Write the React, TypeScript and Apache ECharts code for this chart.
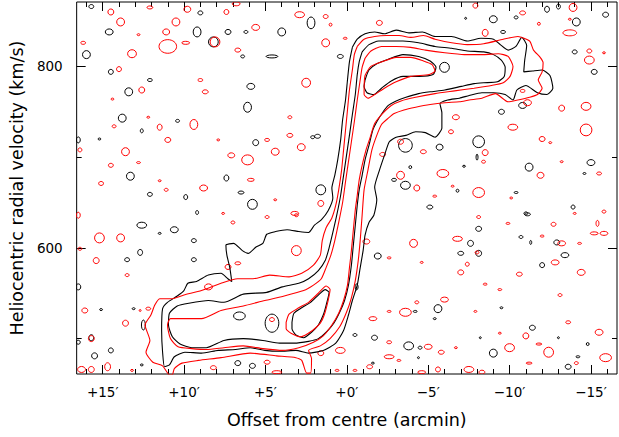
import React, { useEffect, useRef } from "react";
import * as echarts from "echarts";

// Axis ticks (arcmin offset, km/s velocity)
const xMajor = [-15, -10, -5, 0, 5, 10, 15];
const xMinor = [-16, -14, -13, -12, -11, -9, -8, -7, -6, -4, -3, -2, -1, 1, 2, 3, 4, 6, 7, 8, 9, 11, 12, 13, 14, 16];
const yMajor = [600, 800];
const yMinor = [500, 700];

// Main contours: [offset arcmin, velocity km/s]
const contourB1: [number, number][] = [
  [-0.34, 821], [-0.64, 830], [-1.12, 836], [-1.71, 838], [-2.31, 836], [-3.03, 840], [-3.81, 837], [-4.65, 838],
  [-5.42, 833], [-6.44, 833], [-7.4, 828], [-8.24, 831], [-9.01, 830], [-9.43, 824], [-9.91, 818], [-10.39, 822],
  [-10.75, 832], [-11.05, 823], [-10.93, 807], [-10.87, 794], [-11.41, 795], [-12.0, 796], [-12.48, 790], [-12.66, 776],
  [-12.3, 769], [-11.71, 771], [-11.0, 779], [-10.45, 774], [-10.21, 763], [-9.73, 769], [-9.01, 771], [-8.3, 771],
  [-7.52, 768], [-6.92, 765], [-6.2, 763], [-5.72, 759], [-5.84, 749], [-5.84, 732], [-5.42, 722], [-4.83, 727],
  [-4.23, 728], [-3.63, 724], [-3.03, 722], [-2.61, 717], [-2.31, 702], [-2.01, 686], [-1.71, 667], [-1.84, 653],
  [-1.66, 636], [-1.36, 628], [-1.12, 614], [-1.0, 597], [-0.82, 578], [-0.64, 559], [-0.34, 542], [-0.1, 526],
  [0.2, 509], [0.68, 495], [1.45, 487], [2.35, 484], [3.13, 487], [4.14, 486], [5.04, 487], [5.94, 490],
  [6.84, 488], [7.91, 487], [8.93, 484], [9.95, 485], [10.6, 480], [10.9, 471], [11.2, 469], [11.32, 485],
  [11.38, 509], [11.32, 533], [11.02, 540], [10.42, 547], [10.01, 553], [9.77, 561], [9.23, 563], [8.51, 570],
  [7.73, 572], [7.31, 566], [7.07, 563], [7.19, 578], [7.37, 592], [7.43, 603], [6.96, 605], [6.42, 597],
  [6.06, 594], [5.58, 601], [5.16, 605], [4.92, 615], [4.38, 618], [3.67, 620], [2.95, 618], [2.35, 617],
  [1.99, 625], [1.57, 631], [1.15, 641], [0.86, 655], [0.92, 666], [0.74, 680], [0.56, 697], [0.38, 719],
  [0.26, 741], [0.08, 763], [-0.04, 785], [-0.16, 805], [-0.34, 821]
];

const contourR1: [number, number][] = [
  [-0.64, 822], [-1.06, 830], [-1.71, 833], [-2.43, 834], [-3.21, 834], [-3.93, 832], [-4.71, 834], [-5.42, 830],
  [-6.44, 826], [-7.4, 824], [-8.41, 825], [-9.61, 830], [-10.51, 833], [-11.23, 828], [-11.47, 818], [-11.88, 810],
  [-12.06, 804], [-12.0, 794], [-11.76, 785], [-12.0, 776], [-11.71, 769], [-11.23, 766], [-10.51, 763], [-9.91, 761],
  [-9.13, 770], [-8.3, 765], [-7.52, 763], [-6.92, 761], [-6.02, 760], [-5.12, 758], [-4.23, 755], [-3.51, 752],
  [-2.91, 748], [-2.55, 743], [-2.13, 736], [-1.84, 724], [-1.54, 708], [-1.3, 686], [-1.06, 664], [-0.94, 636],
  [-0.82, 608], [-0.7, 586], [-0.52, 564], [-0.28, 545], [0.02, 529], [0.44, 513], [1.03, 500], [1.63, 492],
  [2.35, 487], [2.17, 478], [2.23, 462], [2.47, 462], [2.77, 476], [3.13, 479], [4.32, 481], [5.94, 484],
  [7.73, 479], [9.11, 476], [10.13, 473], [10.6, 467], [10.72, 460], [10.9, 460], [11.32, 470], [11.92, 474],
  [12.34, 485], [12.1, 498], [12.4, 515], [12.04, 526], [11.8, 537], [11.5, 544], [10.72, 544], [10.01, 548],
  [8.93, 553], [7.73, 561], [6.72, 566], [5.76, 566], [4.74, 570], [3.55, 568], [2.77, 572], [2.05, 581],
  [1.63, 592], [1.51, 608], [1.28, 622], [0.92, 633], [0.68, 647], [0.5, 664], [0.32, 686], [0.2, 708],
  [0.08, 730], [-0.04, 752], [-0.16, 774], [-0.34, 796], [-0.46, 813], [-0.64, 822]
];

const contourB2: [number, number][] = [
  [-0.94, 816], [-1.36, 824], [-1.96, 828], [-2.73, 828], [-3.45, 828], [-4.41, 826], [-5.42, 822], [-6.44, 820],
  [-7.4, 817], [-8.41, 816], [-9.01, 813], [-9.49, 807], [-9.73, 799], [-9.67, 789], [-9.25, 783], [-8.41, 782],
  [-7.82, 781], [-7.04, 778], [-6.02, 774], [-5.12, 772], [-4.41, 770], [-3.63, 766], [-3.03, 762], [-2.55, 757],
  [-2.19, 749], [-1.84, 739], [-1.6, 730], [-1.36, 713], [-1.12, 697], [-0.94, 680], [-0.76, 664], [-0.64, 647],
  [-0.52, 625], [-0.4, 603], [-0.28, 581], [-0.1, 559], [0.14, 542], [0.44, 529], [0.8, 517], [1.27, 507],
  [1.75, 500], [2.35, 497], [3.25, 495], [4.14, 495], [5.16, 498], [6.36, 500], [7.55, 498], [8.63, 490],
  [9.53, 490], [10.25, 494], [10.72, 502], [10.96, 515], [10.9, 528], [10.42, 536], [9.71, 539], [8.51, 542],
  [7.55, 540], [6.36, 549], [4.92, 551], [3.97, 557], [2.95, 561], [2.35, 566], [1.75, 575], [1.33, 586],
  [1.09, 600], [0.86, 617], [0.62, 636], [0.38, 658], [0.2, 680], [0.02, 702], [-0.16, 724], [-0.34, 747],
  [-0.52, 769], [-0.64, 791], [-0.76, 805], [-0.94, 816]
];

const contourR2: [number, number][] = [
  [-1.12, 809], [-1.48, 817], [-2.13, 822], [-3.03, 822], [-3.93, 821], [-4.83, 818], [-6.02, 815], [-7.22, 813],
  [-8.41, 813], [-9.31, 814], [-9.91, 811], [-10.21, 800], [-10.03, 789], [-9.61, 782], [-8.89, 779], [-7.82, 776],
  [-6.62, 773], [-5.42, 770], [-4.23, 766], [-3.33, 762], [-2.73, 757], [-2.19, 748], [-1.71, 737], [-1.42, 721],
  [-1.18, 708], [-0.94, 691], [-0.76, 675], [-0.64, 658], [-0.52, 642], [-0.4, 620], [-0.28, 597], [-0.16, 578],
  [-0.04, 559], [0.2, 542], [0.5, 528], [0.92, 515], [1.45, 503], [2.05, 496], [2.95, 490], [3.97, 487],
  [5.16, 489], [6.36, 492], [7.55, 490], [8.63, 488], [9.53, 489], [10.37, 491], [10.84, 500], [11.02, 515],
  [10.84, 522], [10.13, 522], [8.93, 522], [7.73, 531], [6.36, 536], [5.04, 542], [3.85, 547], [2.65, 553],
  [2.05, 559], [1.57, 566], [1.28, 578], [0.98, 592], [0.74, 608], [0.5, 628], [0.26, 650], [0.08, 673],
  [-0.1, 695], [-0.28, 717], [-0.46, 739], [-0.64, 763], [-0.82, 785], [-0.94, 799], [-1.12, 809]
];

const contourB3Upper: [number, number][] = [
  [-1.12, 785], [-1.36, 796], [-1.84, 803], [-2.55, 808], [-3.45, 813], [-4.41, 811], [-5.12, 806], [-5.48, 799],
  [-5.3, 791], [-4.41, 789], [-3.45, 789], [-2.73, 784], [-2.13, 776], [-1.66, 769], [-1.24, 771], [-1.06, 778],
  [-1.12, 785]
];

const contourR3Upper: [number, number][] = [
  [-1.06, 776], [-1.12, 790], [-1.48, 800], [-2.13, 805], [-3.03, 810], [-3.93, 810], [-4.71, 806], [-5.24, 802],
  [-5.42, 795], [-5.06, 791], [-3.93, 789], [-3.03, 783], [-2.31, 776], [-1.71, 769], [-1.3, 765], [-1.06, 769],
  [-1.06, 776]
];

const contourB3Lower: [number, number][] = [
  [3.37, 518], [3.25, 528], [2.77, 534], [2.23, 540], [1.75, 548], [1.33, 554], [1.09, 551], [1.27, 537],
  [1.45, 526], [1.75, 515], [2.17, 507], [2.65, 501], [3.13, 504], [3.37, 511], [3.37, 518]
];

const contourR3Lower: [number, number][] = [
  [3.73, 518], [3.55, 527], [2.95, 534], [2.35, 540], [1.75, 550], [1.27, 558], [1.03, 554], [1.15, 542],
  [1.39, 526], [1.63, 517], [2.11, 509], [2.83, 502], [3.43, 506], [3.73, 511], [3.73, 518]
];

// Small noise contours: [offset, velocity, width arcmin, height km/s]
const blackBlobs: number[][] = [
  [15.7, 866, 0.3, 4.4], [14.6, 838, 0.48, 6.6], [9.2, 838, 0.48, 11], [9.0, 859, 0.3, 4.4], [8.2, 827, 0.6, 11],
  [7.3, 838, 0.36, 5.5], [6.2, 838, 0.24, 3.3], [4.0, 838, 0.48, 8.8], [2.2, 848, 0.48, 13], [6.4, 811, 0.24, 3.3],
  [4.6, 811, 0.72, 3.3], [14.5, 794, 0.3, 5.5], [13.4, 772, 0.48, 8.8], [12.1, 785, 0.3, 3.3], [13.8, 743, 0.48, 8.8],
  [10.4, 740, 0.24, 3.3], [12.6, 729, 0.18, 4.4], [5.9, 778, 0.48, 6.6], [6.1, 755, 0.48, 11], [5.6, 716, 0.36, 6.6],
  [13.3, 679, 0.48, 8.8], [7.4, 677, 0.3, 6.6], [5.8, 648, 0.6, 11], [15.2, 720, 0.18, 2.2], [16.0, 813, 0.48, 8.8],
  [16.5, 719, 0.24, 6.6], [12.1, 659, 0.3, 4.4], [9.9, 656, 0.24, 5.5], [6.5, 661, 0.36, 3.3], [9.2, 639, 0.18, 4.4],
  [2.1, 722, 0.24, 3.3], [0.4, 811, 0.36, 4.4], [1.8, 723, 0.36, 4.4], [-7.3, 853, 0.12, 2.2], [-9.0, 852, 0.48, 7.7],
  [-9.6, 838, 0.3, 3.3], [-10.4, 854, 0.24, 3.3], [-12.3, 863, 0.3, 6.6], [-13.0, 866, 0.24, 5.5], [-14.1, 849, 0.48, 8.8],
  [-15.9, 857, 0.36, 5.5], [-14.0, 816, 0.3, 4.4], [-15.2, 794, 0.36, 5.5], [-6.0, 799, 0.6, 11], [-9.5, 750, 0.36, 5.5],
  [-10.8, 757, 0.48, 6.6], [-5.7, 711, 0.42, 6.6], [-8.1, 717, 0.72, 13], [-8.0, 700, 0.12, 6.6], [-11.2, 689, 0.48, 8.8],
  [-15.0, 694, 0.48, 6.6], [-14.6, 682, 0.18, 2.2], [-7.2, 690, 0.18, 2.2], [-5.1, 645, 0.36, 4.4], [-10.4, 661, 0.24, 2.2],
  [-11.0, 638, 0.24, 3.3], [-13.9, 645, 0.24, 4.4], [-6.8, 663, 0.18, 3.3], [-2.9, 675, 0.3, 3.3], [-3.6, 669, 0.6, 8.8],
  [1.6, 664, 0.6, 11], [-3.9, 689, 0.18, 3.3], [-3.6, 713, 0.84, 15], [12.6, 625, 0.6, 6.6], [11.5, 616, 0.18, 2.2],
  [10.6, 620, 0.48, 6.6], [9.4, 608, 0.3, 4.4], [9.4, 587, 0.3, 4.4], [13.5, 587, 0.3, 4.4], [12.7, 595, 0.3, 6.6],
  [16.5, 557, 0.3, 6.6], [15.1, 532, 0.18, 2.2], [13.1, 533, 0.18, 2.2], [12.5, 515, 0.24, 11], [15.7, 501, 0.3, 6.6],
  [16.5, 496, 0.24, 4.4], [15.5, 481, 0.36, 6.6], [14.5, 487, 0.3, 5.5], [12.6, 471, 0.18, 2.2], [6.6, 525, 0.72, 8.8],
  [4.6, 517, 0.84, 20], [5.8, 470, 0.36, 5.5], [6.7, 473, 0.36, 5.5], [-11.1, 637, 0.36, 3.3], [-8.1, 621, 0.36, 5.5],
  [-10.7, 612, 0.24, 3.3], [-11.3, 606, 0.12, 4.4], [-12.9, 606, 0.36, 5.5], [-13.4, 592, 0.48, 5.5], [-12.0, 581, 0.3, 5.5],
  [-7.6, 605, 0.36, 6.6], [-7.0, 594, 0.36, 4.4], [-8.1, 594, 0.36, 6.6], [-1.9, 591, 0.42, 6.6], [-5.6, 533, 0.48, 8.8],
  [-4.2, 530, 0.24, 2.2], [-5.4, 522, 0.18, 2.2], [-9.5, 534, 0.18, 2.2], [-11.4, 512, 0.36, 5.5], [-8.2, 501, 0.12, 2.2],
  [-14.8, 494, 0.18, 3.3], [-13.0, 501, 0.12, 2.2], [-3.8, 492, 0.6, 8.8], [-4.5, 490, 0.24, 3.3], [-9.0, 484, 0.48, 8.8],
  [-1.6, 473, 0.18, 2.2], [-13.6, 469, 0.36, 5.5], [-14.2, 480, 0.24, 2.2], [-1.7, 501, 0.36, 5.5], [-0.5, 504, 0.24, 3.3],
  [-0.6, 557, 0.18, 6.6], [-4.4, 479, 0.12, 2.2]
];

const redBlobs: number[][] = [
  [14.5, 860, 0.36, 6.6], [13.9, 849, 0.48, 8.8], [12.1, 865, 0.36, 3.3], [9.8, 863, 0.42, 6.6], [7.4, 860, 0.3, 5.5],
  [6.8, 869, 0.48, 4.4], [2.9, 857, 0.6, 6.6], [10.5, 849, 0.48, 8.8], [11.1, 838, 0.42, 6.6], [12.8, 835, 0.18, 2.2],
  [16.2, 826, 0.3, 3.3], [11.0, 822, 1.08, 15], [9.9, 826, 0.48, 3.3], [8.1, 827, 0.6, 11], [5.6, 843, 0.48, 6.6],
  [6.7, 818, 0.36, 4.4], [13.2, 814, 0.54, 8.8], [14.0, 797, 0.3, 5.5], [9.0, 785, 0.3, 3.3], [12.6, 774, 0.36, 6.6],
  [8.7, 772, 0.36, 4.4], [2.5, 782, 0.54, 9.9], [14.4, 764, 0.18, 2.2], [12.2, 744, 0.18, 2.2], [11.5, 733, 0.3, 6.6],
  [9.4, 736, 0.48, 11], [7.9, 719, 0.18, 2.2], [11.0, 719, 0.36, 5.5], [13.6, 706, 0.48, 8.8], [12.8, 694, 0.24, 2.2],
  [7.1, 702, 0.42, 5.5], [6.1, 697, 0.72, 11], [4.4, 706, 0.48, 7.7], [2.8, 711, 0.48, 7.7], [4.9, 719, 0.3, 3.3],
  [3.5, 724, 0.36, 4.4], [14.5, 691, 0.3, 4.4], [15.1, 671, 0.3, 4.4], [11.5, 674, 0.18, 2.2], [11.1, 664, 0.24, 3.3],
  [8.8, 666, 0.48, 6.6], [5.9, 675, 0.42, 3.3], [3.2, 638, 0.48, 4.4], [7.6, 638, 0.18, 2.2], [4.4, 653, 0.18, 2.2],
  [16.5, 636, 0.24, 6.6], [16.4, 708, 0.24, 4.4], [3.5, 744, 0.24, 3.3], [14.3, 734, 0.24, 3.3], [4.9, 634, 0.24, 3.3],
  [1.3, 855, 0.3, 4.4], [1.0, 846, 0.18, 3.3], [-2.0, 848, 0.36, 5.5], [1.3, 826, 0.48, 8.8], [0.1, 831, 0.24, 2.2],
  [-7.9, 867, 0.3, 5.5], [-8.5, 837, 0.36, 7.7], [-10.8, 859, 0.36, 4.4], [-11.8, 847, 0.18, 3.3], [-13.7, 837, 0.84, 6.6],
  [-13.9, 865, 0.48, 8.8], [-13.7, 852, 0.18, 2.2], [-14.9, 817, 0.3, 4.4], [-14.9, 807, 0.6, 8.8], [-15.8, 815, 0.18, 2.2],
  [-14.7, 756, 0.6, 8.8], [-14.7, 730, 0.72, 13], [-13.2, 754, 0.36, 6.6], [-10.2, 733, 0.6, 6.6], [-11.1, 760, 0.48, 6.6],
  [-10.8, 773, 0.3, 3.3], [-6.7, 744, 0.42, 5.5], [-6.4, 728, 0.3, 4.4], [-4.7, 706, 0.36, 4.4], [-2.2, 703, 0.36, 4.4],
  [-3.3, 717, 0.36, 5.5], [-8.5, 705, 0.36, 6.6], [-8.4, 695, 0.24, 3.3], [-12.0, 720, 0.36, 5.5], [-12.5, 716, 0.18, 2.2],
  [-11.9, 680, 0.42, 6.6], [-15.5, 682, 0.3, 3.3], [-13.2, 695, 0.18, 2.2], [-5.9, 682, 0.72, 8.8], [-3.3, 680, 0.48, 8.8],
  [-4.3, 666, 0.36, 6.6], [-8.1, 661, 0.72, 11], [-5.4, 657, 0.24, 2.2], [-6.5, 668, 0.18, 2.2], [-8.1, 634, 0.24, 3.3],
  [-10.1, 655, 0.18, 2.2], [-14.0, 638, 0.18, 2.2], [-15.8, 640, 0.24, 3.3], [1.6, 649, 0.36, 6.6], [15.2, 611, 0.6, 11],
  [13.9, 611, 0.48, 8.8], [15.4, 586, 0.36, 6.6], [16.4, 599, 0.24, 3.3], [13.5, 570, 0.24, 3.3], [16.1, 531, 0.36, 5.5],
  [13.6, 517, 0.36, 6.6], [12.2, 533, 0.3, 3.3], [12.7, 531, 0.12, 2.2], [15.7, 500, 0.36, 6.6], [16.3, 466, 0.48, 6.6],
  [15.7, 466, 0.36, 6.6], [14.7, 469, 0.36, 8.8], [13.2, 465, 0.18, 2.2], [8.5, 557, 0.48, 6.6], [7.3, 579, 0.36, 5.5],
  [6.7, 583, 0.36, 3.3], [3.1, 597, 0.6, 11], [3.1, 636, 0.24, 3.3], [7.0, 628, 0.24, 3.3], [4.9, 474, 0.36, 4.4],
  [4.3, 463, 0.6, 3.3], [8.2, 468, 0.36, 4.4], [4.6, 521, 0.3, 4.4], [-12.7, 626, 0.3, 4.4], [-15.4, 627, 0.18, 6.6],
  [-15.2, 616, 0.48, 3.3], [-15.8, 616, 0.48, 4.4], [-9.9, 627, 0.24, 2.2], [-1.2, 607, 0.42, 5.5], [-4.1, 605, 0.48, 8.8],
  [-6.8, 610, 0.6, 5.5], [-8.0, 595, 0.24, 3.3], [-13.2, 605, 0.48, 5.5], [-14.3, 605, 0.24, 2.2], [-12.0, 613, 0.24, 2.2],
  [-2.6, 589, 0.24, 2.2], [-4.6, 584, 0.18, 2.2], [-7.0, 573, 0.36, 5.5], [-7.4, 582, 0.24, 4.4], [-10.6, 571, 0.36, 4.4],
  [-12.8, 584, 0.48, 5.5], [-14.4, 573, 0.48, 6.6], [-8.5, 560, 0.24, 2.2], [-9.4, 554, 0.24, 2.2], [-13.1, 548, 0.24, 3.3],
  [-6.0, 543, 0.48, 5.5], [-4.3, 540, 0.24, 3.3], [-3.6, 529, 0.72, 8.8], [-2.6, 530, 0.24, 2.2], [-1.6, 522, 0.48, 4.4],
  [-7.9, 530, 0.18, 2.2], [-13.6, 518, 0.3, 3.3], [-11.0, 503, 0.36, 6.6], [-10.0, 490, 0.6, 8.8], [-12.4, 485, 0.6, 11],
  [-15.5, 507, 0.48, 6.6], [-15.9, 479, 0.72, 8.8], [-5.0, 491, 0.48, 5.5], [-5.8, 485, 0.36, 4.4], [-2.6, 496, 0.3, 3.3],
  [-2.6, 480, 0.6, 4.4], [-3.2, 476, 0.24, 2.2], [0.4, 487, 0.6, 6.6], [1.6, 484, 0.36, 5.5], [-5.6, 466, 0.3, 5.5],
  [-7.5, 466, 0.6, 6.6], [-8.3, 463, 0.36, 4.4], [-6.7, 490, 0.18, 2.2], [-9.4, 506, 0.18, 2.2], [-11.2, 473, 0.36, 2.2],
  [-14.1, 473, 0.24, 3.3], [-11.8, 494, 0.36, 2.2], [-4.6, 463, 0.48, 3.3], [-1.4, 469, 0.36, 4.4], [-0.5, 465, 0.24, 2.2],
  [0.6, 465, 0.24, 2.2]
];

const FONT = "DejaVu Sans";
const BLACK = "#000000";
const RED = "#ff0000";

function fmtX(v: number): string {
  const s = v > 0 ? "+" + v : v < 0 ? "\u2212" + -v : "+0";
  return s + "\u2032";
}

function blobSeries(data: number[][], color: string) {
  return {
    type: "custom",
    silent: true,
    clip: true,
    data,
    renderItem: (params: any, api: any) => {
      const c = api.coord([api.value(0), api.value(1)]);
      const s = api.size([api.value(2), api.value(3)]);
      return {
        type: "ellipse",
        shape: { cx: c[0], cy: c[1], rx: Math.max(s[0] / 2, 0.8), ry: Math.max(s[1] / 2, 0.8) },
        style: { fill: "none", stroke: color, lineWidth: 1 },
      };
    },
  };
}

function lineSeries(data: [number, number][], color: string) {
  return {
    type: "line",
    data,
    silent: true,
    symbol: "none",
    showSymbol: false,
    smooth: 0.2,
    clip: true,
    lineStyle: { color, width: 1.1 },
  };
}

export default function App() {
  const ref = useRef<HTMLDivElement>(null);
  useEffect(() => {
    if (!ref.current) return;
    const chart = echarts.init(ref.current, undefined, { renderer: "svg" });
    const xBase = { type: "value", min: -16.6, max: 16.6, inverse: true, splitLine: { show: false }, axisLine: { show: false, onZero: false } };
    const yBase = { type: "value", min: 461, max: 871, splitLine: { show: false }, axisLine: { show: false, onZero: false } };
    const tick = (vals: number[], len: number) => ({ show: true, inside: true, length: len, customValues: vals, lineStyle: { color: BLACK, width: 1 } });
    chart.setOption({
      animation: false,
      backgroundColor: "#ffffff",
      grid: { left: 62, right: 2, top: 2, bottom: 63, show: true, borderColor: BLACK, borderWidth: 1, backgroundColor: "transparent" },
      xAxis: [
        {
          ...xBase,
          position: "bottom",
          axisTick: tick(xMajor, 9),
          axisLabel: { customValues: xMajor, formatter: fmtX, margin: 11, color: BLACK, fontSize: 13.5, fontFamily: FONT },
          name: "Offset from centre (arcmin)",
          nameLocation: "middle",
          nameGap: 37,
          nameTextStyle: { color: BLACK, fontSize: 17.5, fontFamily: FONT },
        },
        { ...xBase, position: "bottom", axisTick: tick(xMinor, 5), axisLabel: { show: false } },
        { ...xBase, position: "top", axisTick: tick(xMajor, 9), axisLabel: { show: false } },
        { ...xBase, position: "top", axisTick: tick(xMinor, 5), axisLabel: { show: false } },
      ],
      yAxis: [
        {
          ...yBase,
          position: "left",
          axisTick: tick(yMajor, 9),
          axisLabel: { customValues: yMajor, margin: 14, color: BLACK, fontSize: 13.5, fontFamily: FONT },
          name: "Heliocentric radial velocity (km/s)",
          nameLocation: "middle",
          nameGap: 36,
          nameTextStyle: { color: BLACK, fontSize: 17.5, fontFamily: FONT },
        },
        { ...yBase, position: "left", axisTick: tick(yMinor, 5), axisLabel: { show: false } },
        { ...yBase, position: "right", axisTick: tick(yMajor, 9), axisLabel: { show: false } },
        { ...yBase, position: "right", axisTick: tick(yMinor, 5), axisLabel: { show: false } },
      ],
      series: [
        blobSeries(blackBlobs, BLACK),
        blobSeries(redBlobs, RED),
        lineSeries(contourB1, BLACK),
        lineSeries(contourB2, BLACK),
        lineSeries(contourB3Upper, BLACK),
        lineSeries(contourB3Lower, BLACK),
        lineSeries(contourR1, RED),
        lineSeries(contourR2, RED),
        lineSeries(contourR3Upper, RED),
        lineSeries(contourR3Lower, RED),
      ],
    });
    return () => chart.dispose();
  }, []);
  return <div ref={ref} style={{ position: "fixed", left: 0, top: 0, width: 619, height: 437 }} />;
}
